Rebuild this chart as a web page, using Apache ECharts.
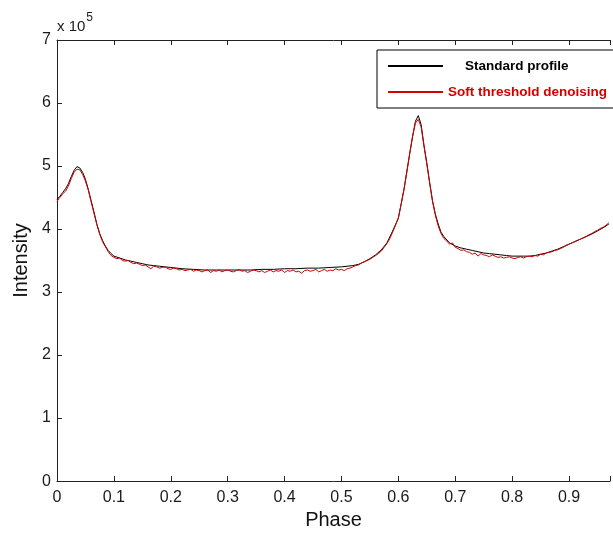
<!DOCTYPE html>
<html>
<head>
<meta charset="utf-8">
<script src="https://cdn.jsdelivr.net/npm/echarts@6/dist/echarts.min.js"></script>
<style>
html,body{margin:0;padding:0;background:#fff;}
#chart{width:613px;height:535px;}
</style>
</head>
<body>
<div id="chart"></div>
<script>
// Values in units of 1e5
const xTicks = [0, 0.1, 0.2, 0.3, 0.4, 0.5, 0.6, 0.7, 0.8, 0.9];
const yTicks = [0, 1, 2, 3, 4, 5, 6, 7];

const standardPhase = [0,0.005,0.01,0.015,0.02,0.025,0.03,0.035,0.04,0.045,0.05,0.055,0.06,0.065,0.07,0.075,0.08,0.085,0.09,0.095,0.1,0.11,0.12,0.13,0.14,0.15,0.16,0.17,0.18,0.19,0.2,0.22,0.24,0.26,0.28,0.3,0.32,0.34,0.36,0.38,0.4,0.42,0.44,0.46,0.48,0.5,0.52,0.53,0.54,0.55,0.56,0.57,0.58,0.59,0.6,0.605,0.61,0.615,0.62,0.625,0.63,0.635,0.64,0.645,0.65,0.655,0.66,0.665,0.67,0.675,0.68,0.69,0.7,0.71,0.72,0.73,0.74,0.75,0.76,0.77,0.78,0.79,0.8,0.81,0.82,0.83,0.84,0.85,0.86,0.87,0.88,0.89,0.9,0.91,0.92,0.93,0.94,0.95,0.96,0.97];
const standardValue = [4.47,4.52,4.58,4.64,4.72,4.83,4.93,4.99,4.97,4.90,4.79,4.63,4.45,4.27,4.08,3.93,3.82,3.73,3.66,3.61,3.57,3.54,3.51,3.49,3.47,3.45,3.43,3.42,3.41,3.40,3.39,3.37,3.36,3.35,3.35,3.35,3.35,3.35,3.36,3.36,3.37,3.37,3.38,3.38,3.39,3.40,3.42,3.44,3.48,3.53,3.59,3.67,3.78,3.97,4.17,4.40,4.64,4.92,5.20,5.47,5.71,5.80,5.66,5.33,5.05,4.74,4.45,4.24,4.08,3.95,3.88,3.78,3.73,3.70,3.68,3.66,3.64,3.62,3.61,3.60,3.59,3.58,3.57,3.57,3.57,3.57,3.58,3.60,3.62,3.65,3.68,3.72,3.76,3.80,3.84,3.88,3.92,3.97,4.02,4.08];

const denoisedStep = 0.005;
const denoisedValue = [4.44,4.50,4.56,4.60,4.68,4.80,4.90,4.95,4.94,4.87,4.76,4.62,4.43,4.25,4.07,3.92,3.80,3.72,3.64,3.58,
3.55,3.53,3.54,3.50,3.49,3.50,3.47,3.45,3.46,3.44,3.42,3.43,3.40,3.37,3.41,3.40,3.38,3.39,3.40,3.37,
3.36,3.38,3.37,3.35,3.36,3.34,3.35,3.36,3.33,3.35,3.34,3.32,3.34,3.35,3.31,3.34,3.33,3.35,3.32,3.34,
3.35,3.33,3.32,3.34,3.36,3.33,3.34,3.31,3.33,3.35,3.34,3.32,3.34,3.31,3.33,3.35,3.32,3.34,3.33,3.35,
3.31,3.34,3.33,3.35,3.32,3.33,3.30,3.34,3.35,3.33,3.34,3.36,3.32,3.34,3.36,3.33,3.35,3.34,3.37,3.35,
3.36,3.34,3.37,3.38,3.40,3.42,3.43,3.46,3.48,3.50,3.52,3.55,3.58,3.61,3.65,3.71,3.77,3.85,3.95,4.06,
4.18,4.40,4.63,4.91,5.20,5.47,5.68,5.74,5.62,5.32,5.03,4.73,4.44,4.22,4.05,3.93,3.85,3.81,3.76,3.78,
3.71,3.69,3.66,3.67,3.64,3.63,3.60,3.62,3.57,3.61,3.59,3.58,3.56,3.59,3.57,3.55,3.56,3.54,3.55,3.56,
3.54,3.53,3.55,3.56,3.54,3.56,3.57,3.56,3.58,3.57,3.60,3.59,3.62,3.63,3.64,3.66,3.67,3.69,3.71,3.74,
3.76,3.78,3.80,3.82,3.84,3.86,3.88,3.91,3.93,3.96,3.98,4.01,4.03,4.06,4.10];

const standardData = standardPhase.map((p, i) => [p, standardValue[i]]);
const denoisedData = denoisedValue.map((v, i) => [+(i * denoisedStep).toFixed(3), v]);

const chart = echarts.init(document.getElementById('chart'), null, {renderer: 'canvas'});
const tickFont = {fontFamily: 'Liberation Sans, Arial, sans-serif', fontSize: 16, color: '#1a1a1a'};
const axisLine = {show: true, lineStyle: {color: '#222', width: 1}};

chart.setOption({
  animation: false,
  backgroundColor: '#fff',
  grid: {left: 57, top: 40, right: 0, bottom: 52, show: false},
  legend: {
    orient: 'vertical',
    left: 377, top: 50,
    padding: [9, 7, 9, 10],
    itemWidth: 55, itemHeight: 14, itemGap: 12,
    borderColor: '#000', borderWidth: 1,
    backgroundColor: '#fff',
    itemStyle: {opacity: 0},
    textStyle: {fontFamily: 'Liberation Sans, Arial, sans-serif', fontWeight: 'bold', fontSize: 13.5},
    data: [
      {name: 'Standard profile', textStyle: {color: '#000', padding: [0, 0, 0, 17]}},
      {name: 'Soft threshold denoising', textStyle: {color: '#d40000'}}
    ]
  },
  xAxis: [{
    type: 'value', min: 0, max: 0.972, interval: 0.1,
    name: 'Phase', nameLocation: 'middle', nameGap: 27,
    nameTextStyle: {fontFamily: 'Liberation Sans, Arial, sans-serif', fontSize: 20, color: '#111'},
    axisLine: axisLine,
    axisTick: {show: true, inside: true, length: 5, lineStyle: {color: '#222'}},
    axisLabel: Object.assign({margin: 8, formatter: v => xTicks.includes(+v.toFixed(1)) ? String(+v.toFixed(1)) : ''}, tickFont),
    splitLine: {show: false}
  }, {
    type: 'value', position: 'top', min: 0, max: 0.972, interval: 0.1,
    axisLine: axisLine,
    axisTick: {show: true, inside: true, length: 5, lineStyle: {color: '#222'}},
    axisLabel: {show: false},
    splitLine: {show: false}
  }],
  yAxis: {
    type: 'value', min: 0, max: 7, interval: 1,
    name: 'Intensity', nameLocation: 'middle', nameGap: 25,
    nameTextStyle: {fontFamily: 'Liberation Sans, Arial, sans-serif', fontSize: 20, color: '#111'},
    axisLine: axisLine,
    axisTick: {show: true, inside: true, length: 5, lineStyle: {color: '#222'}},
    axisLabel: Object.assign({margin: 6, formatter: v => yTicks.includes(v) ? String(v) : ''}, tickFont),
    splitLine: {show: false}
  },
  graphic: [{
    type: 'text', left: 57, top: 12,
    style: {
      text: '{a|x 10}{b|5}',
      rich: {
        a: {fontFamily: 'Liberation Sans, Arial, sans-serif', fontSize: 15, fill: '#1a1a1a', padding: [10, 0, 0, 0]},
        b: {fontFamily: 'Liberation Sans, Arial, sans-serif', fontSize: 12, fill: '#1a1a1a', padding: [0, 0, 8, 1]}
      }
    }
  }],
  series: [{
    name: 'Standard profile', type: 'line', data: standardData,
    symbol: 'none', smooth: false,
    lineStyle: {color: '#000', width: 1}, itemStyle: {color: '#000'}, z: 2
  }, {
    name: 'Soft threshold denoising', type: 'line', data: denoisedData,
    symbol: 'none', smooth: false,
    lineStyle: {color: '#d40000', width: 1}, itemStyle: {color: '#d40000'}, z: 3
  }]
});
</script>
</body>
</html>
